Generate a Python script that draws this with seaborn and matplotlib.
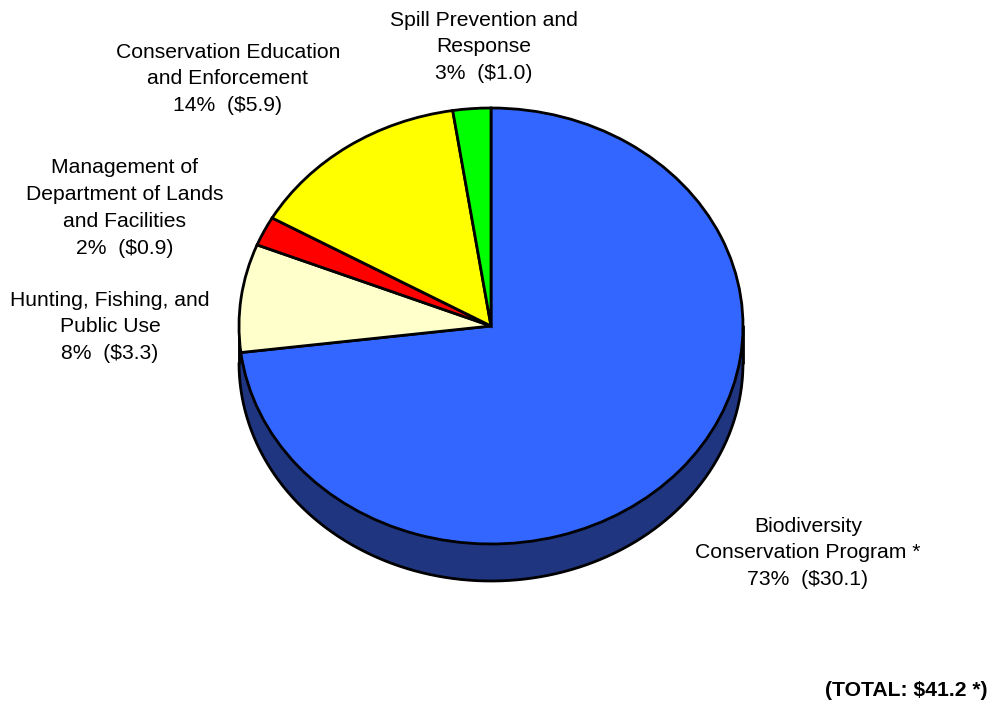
import numpy as np
import matplotlib
matplotlib.use("Agg")
import matplotlib.pyplot as plt
import seaborn as sns

sns.set_style("white")
plt.rcParams["font.family"] = ["Liberation Sans", "DejaVu Sans"]

# Budget by program area (millions of dollars)
categories = [
    "Biodiversity\nConservation Program *",
    "Hunting, Fishing, and\nPublic Use",
    "Management of\nDepartment of Lands\nand Facilities",
    "Conservation Education\nand Enforcement",
    "Spill Prevention and\nResponse",
]
amounts = [30.1, 3.3, 0.9, 5.9, 1.0]
percents = [73, 8, 2, 14, 3]
colors = ["#3366FF", "#FFFFCC", "#FF0000", "#FFFF00", "#00FF00"]
side_color = "#1F3580"
total_label = "(TOTAL: $41.2 *)"

W, H = 995, 706
fig = plt.figure(figsize=(W / 100, H / 100), dpi=100)
fig.patch.set_facecolor("white")

# Axes spans the top ellipse of the tilted pie
cx, cy, rx, ry, depth = 491, 326, 252, 218, 37
ax = fig.add_axes([(cx - rx) / W, 1 - (cy + ry) / H, 2 * rx / W, 2 * ry / H])

# Side wall of the pie (front half)
d = depth / ry
t = np.linspace(np.pi, 2 * np.pi, 200)
xs = np.concatenate([np.cos(t), np.cos(t[::-1])])
ys = np.concatenate([np.sin(t), np.sin(t[::-1]) - d])
ax.fill(xs, ys, color=side_color, zorder=1, clip_on=False)
ax.plot(np.cos(t), np.sin(t) - d, color="black", lw=2.0, zorder=1.5, clip_on=False)
ax.plot([-1, -1], [0, -d], color="black", lw=2.0, zorder=1.5, clip_on=False)
ax.plot([1, 1], [0, -d], color="black", lw=2.0, zorder=1.5, clip_on=False)

wedges, _ = ax.pie(
    amounts,
    colors=colors,
    startangle=90,
    counterclock=False,
    radius=1,
    center=(0, 0),
    wedgeprops=dict(edgecolor="black", linewidth=2.0, zorder=2),
    frame=True,
)
ax.set_xlim(-1, 1)
ax.set_ylim(-1, 1)
ax.set_aspect("auto")
ax.axis("off")
for w in wedges:
    w.set_clip_on(False)

# Slice labels (pixel positions of the label centres)
label_pos = [(808, 553), (110, 327), (125, 208), (228, 79), (484, 47)]
for name, pct, amt, (px, py) in zip(categories, percents, amounts, label_pos):
    fig.text(px / W, 1 - py / H, f"{name}\n{pct}%  (${amt:.1f})",
             ha="center", va="center", fontsize=15.2, linespacing=1.52,
             color="black")

fig.text(988 / W, 1 - 690 / H, total_label, ha="right", va="center",
         fontsize=15.2, fontweight="bold", color="black")

fig.savefig("out.png", dpi=100, facecolor="white")
